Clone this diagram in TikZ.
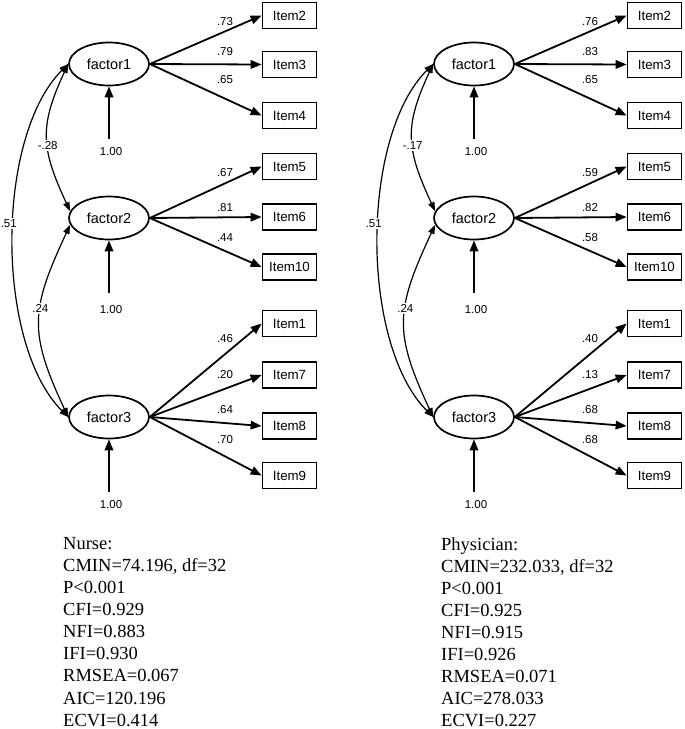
\documentclass[tikz,border=0pt]{standalone}
\usepackage{fontspec}
\setmainfont{Liberation Sans}
\newfontfamily\statfont{Liberation Serif}
\usetikzlibrary{arrows.meta,shapes.geometric}

\begin{document}
\begin{tikzpicture}[x=1pt,y=1pt,every node/.style={inner sep=1pt},
  factor/.style={draw,ellipse,line width=1.7pt,minimum width=80pt,minimum height=43pt,inner sep=0pt,font=\fontsize{14.5}{16}\selectfont},
  itembox/.style={draw,line width=1.7pt,minimum width=54pt,minimum height=26pt,inner sep=0pt,font=\fontsize{13.3}{15}\selectfont},
  load/.style={line width=1.8pt,-{Triangle[length=11pt,width=8.5pt]}},
  cov/.style={line width=1.2pt,{Triangle[length=9pt,width=6.5pt]}-{Triangle[length=9pt,width=6.5pt]}},
  coef/.style={font=\fontsize{11.5}{13}\selectfont},
  covlab/.style={coef,fill=white,inner sep=1.5pt},
  fitstats/.style={font=\statfont\fontsize{18.5}{22.1}\selectfont,align=left,anchor=north west,inner sep=0pt}]
\useasboundingbox (0,0) rectangle (685,-729);

% ---------------- Nurse model ----------------
\node[factor] (nf1) at (109,-64) {factor1};
\node[factor] (nf2) at (109,-218) {factor2};
\node[factor] (nf3) at (109,-417) {factor3};
% factor1 -> items
\foreach \n/\y/\c/\ly in {2/15.5/.73/22,3/64.5/.79/52,4/115.5/.65/80}{
  \node[itembox] (ni\n) at (289.5,-\y) {Item\n};
  \draw[load] (nf1.east) -- (ni\n.west);
  \node[coef] (nl\n) at (225,-\ly) {\c};
}
% factor2 -> items
\foreach \n/\y/\c/\ly in {5/166.5/.67/173,6/217/.81/208,10/267/.44/238}{
  \node[itembox] (ni\n) at (289.5,-\y) {Item\n};
  \draw[load] (nf2.east) -- (ni\n.west);
  \node[coef] (nl\n) at (225,-\ly) {\c};
}
% factor3 -> items
\foreach \n/\y/\c/\ly in {1/323.5/.46/339,7/375/.20/375,8/426/.64/410,9/475.5/.70/440}{
  \node[itembox] (ni\n) at (289.5,-\y) {Item\n};
  \draw[load] (nf3.east) -- (ni\n.west);
  \node[coef] (nl\n) at (225,-\ly) {\c};
}
% fixed variances
\node[coef] (nv1) at (111,-152) {1.00};
\node[coef] (nv2) at (111,-310) {1.00};
\node[coef] (nv3) at (111,-505) {1.00};
\draw[load,shorten <=8pt] (nv1.north -| nf1.south) -- (nf1.south);
\draw[load,shorten <=12pt] (nv2.north -| nf2.south) -- (nf2.south);
\draw[load,shorten <=8pt] (nv3.north -| nf3.south) -- (nf3.south);
% covariances
\draw[cov] (nf1.west) to[out=245,in=115,looseness=1.2] node[covlab,pos=0.56] (nc12) {-.28} (nf2.170);
\draw[cov] (nf2.190) to[out=245,in=115,looseness=1.25] node[covlab,pos=0.42] (nc23) {.24} (nf3.west);
\draw[cov] (nf1.west) to[out=225,in=135,looseness=0.75] node[covlab,pos=0.46,xshift=-5pt] (nc13) {.51} (nf3.west);

% ---------------- Physician model ----------------
\node[factor] (pf1) at (474,-64) {factor1};
\node[factor] (pf2) at (474,-218) {factor2};
\node[factor] (pf3) at (474,-417) {factor3};
% factor1 -> items
\foreach \n/\y/\c/\ly in {2/15.5/.76/22,3/64.5/.83/52,4/115.5/.65/80}{
  \node[itembox] (pi\n) at (654.5,-\y) {Item\n};
  \draw[load] (pf1.east) -- (pi\n.west);
  \node[coef] (pl\n) at (590,-\ly) {\c};
}
% factor2 -> items
\foreach \n/\y/\c/\ly in {5/166.5/.59/173,6/217/.82/208,10/267/.58/238}{
  \node[itembox] (pi\n) at (654.5,-\y) {Item\n};
  \draw[load] (pf2.east) -- (pi\n.west);
  \node[coef] (pl\n) at (590,-\ly) {\c};
}
% factor3 -> items
\foreach \n/\y/\c/\ly in {1/323.5/.40/339,7/375/.13/375,8/426/.68/410,9/475.5/.68/440}{
  \node[itembox] (pi\n) at (654.5,-\y) {Item\n};
  \draw[load] (pf3.east) -- (pi\n.west);
  \node[coef] (pl\n) at (590,-\ly) {\c};
}
% fixed variances
\node[coef] (pv1) at (476,-152) {1.00};
\node[coef] (pv2) at (476,-310) {1.00};
\node[coef] (pv3) at (476,-505) {1.00};
\draw[load,shorten <=8pt] (pv1.north -| pf1.south) -- (pf1.south);
\draw[load,shorten <=12pt] (pv2.north -| pf2.south) -- (pf2.south);
\draw[load,shorten <=8pt] (pv3.north -| pf3.south) -- (pf3.south);
% covariances
\draw[cov] (pf1.west) to[out=245,in=115,looseness=1.2] node[covlab,pos=0.56] (pc12) {-.17} (pf2.170);
\draw[cov] (pf2.190) to[out=245,in=115,looseness=1.25] node[covlab,pos=0.42] (pc23) {.24} (pf3.west);
\draw[cov] (pf1.west) to[out=225,in=135,looseness=0.75] node[covlab,pos=0.46,xshift=-5pt] (pc13) {.51} (pf3.west);

% fit indices
\node[fitstats] (nfit) at (63,-537) {Nurse:\\CMIN=74.196, df=32\\P<0.001\\CFI=0.929\\NFI=0.883\\IFI=0.930\\RMSEA=0.067\\AIC=120.196\\ECVI=0.414};
\node[fitstats] (pfit) at (441,-537) {Physician:\\CMIN=232.033, df=32\\P<0.001\\CFI=0.925\\NFI=0.915\\IFI=0.926\\RMSEA=0.071\\AIC=278.033\\ECVI=0.227};
\end{tikzpicture}
\end{document}
